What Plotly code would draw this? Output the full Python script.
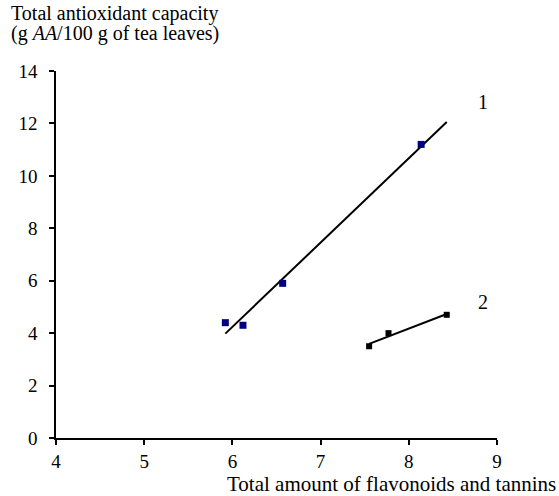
import numpy as np
import plotly.graph_objects as go

# Data
s1_x = [5.92, 6.12, 6.57, 8.14]
s1_y = [4.4, 4.3, 5.9, 11.2]
s2_x = [7.55, 7.77, 8.43]
s2_y = [3.5, 4.0, 4.7]
trend1_range = [5.92, 8.43]
trend2_range = [7.55, 8.43]
x_ticks = [4, 5, 6, 7, 8, 9]
y_ticks = [0, 2, 4, 6, 8, 10, 12, 14]
curve_labels = ["1", "2"]
label_pos_x = [8.84, 8.84]
label_pos_y = [12.8, 5.2]

FONT = "'Liberation Serif', 'Times New Roman', serif"
W, H = 559, 496
ML, MR, MT, MB = 56, 62, 71, 58
PW, PH = W - ML - MR, H - MT - MB

def px_to_paper(px, py):
    return (px - ML) / PW, (H - MB - py) / PH

def fit(xs, ys, rng):
    k, b = np.polyfit(xs, ys, 1)
    xr = np.array(rng)
    return xr, k * xr + b

t1x, t1y = fit(s1_x, s1_y, trend1_range)
t2x, t2y = fit(s2_x, s2_y, trend2_range)

fig = go.Figure()
fig.add_trace(go.Scatter(x=t1x, y=t1y, mode="lines",
                         line=dict(color="black", width=2), showlegend=False))
fig.add_trace(go.Scatter(x=t2x, y=t2y, mode="lines",
                         line=dict(color="black", width=2), showlegend=False))
fig.add_trace(go.Scatter(x=s1_x, y=s1_y, mode="markers",
                         marker=dict(symbol="square", size=7, color="#000080"),
                         showlegend=False))
fig.add_trace(go.Scatter(x=s2_x, y=s2_y, mode="markers",
                         marker=dict(symbol="square", size=6, color="black"),
                         showlegend=False))

for t, lx, ly in zip(curve_labels, label_pos_x, label_pos_y):
    fig.add_annotation(x=lx, y=ly, text=t, showarrow=False,
                       font=dict(family=FONT, size=20, color="black"))

title_lines = ["Total antioxidant capacity", "(g <i>AA</i>/100 g of tea leaves)"]
title_centers_y = [13, 34]
for line, cy in zip(title_lines, title_centers_y):
    px, py = px_to_paper(9, cy)
    fig.add_annotation(xref="paper", yref="paper", x=px, y=py,
                       xanchor="left", yanchor="middle", align="left", showarrow=False,
                       text=line, font=dict(family=FONT, size=20, color="black"))

px, py = px_to_paper(558, 484)
fig.add_annotation(xref="paper", yref="paper", x=px, y=py,
                   xanchor="right", yanchor="middle", showarrow=False,
                   text="Total amount of flavonoids and tannins",
                   font=dict(family=FONT, size=21, color="black"))

axis_common = dict(showline=True, linecolor="black", linewidth=1.5,
                   ticks="outside", ticklen=5, tickwidth=1.5, tickcolor="black",
                   showgrid=False, zeroline=False,
                   tickfont=dict(family=FONT, size=19, color="black"))
fig.update_xaxes(range=[4, 9], tickvals=x_ticks, ticklabelstandoff=0, **axis_common)
fig.update_yaxes(range=[0, 14], tickvals=y_ticks, ticklabelstandoff=8, **axis_common)

fig.update_layout(width=W, height=H,
                  margin=dict(l=ML, r=MR, t=MT, b=MB),
                  plot_bgcolor="white", paper_bgcolor="white")

fig.write_html("out.html")
